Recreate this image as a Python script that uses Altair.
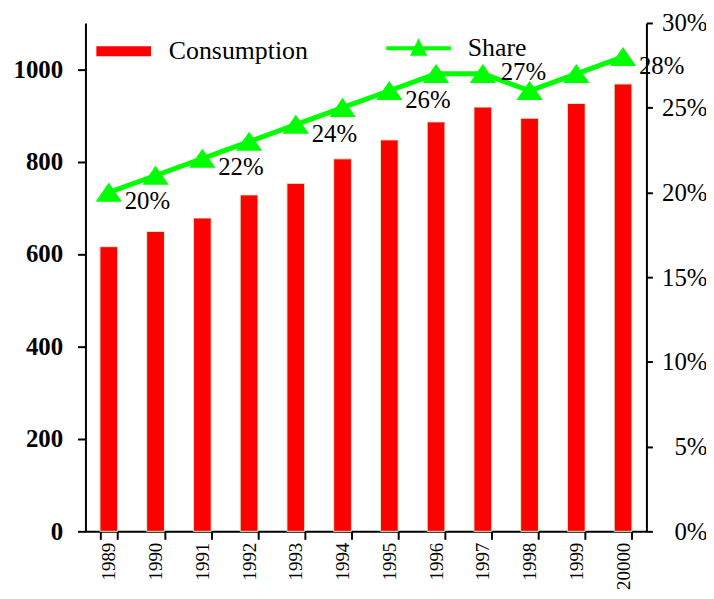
import altair as alt
import pandas as pd

years = ["1989", "1990", "1991", "1992", "1993", "1994", "1995", "1996", "1997", "1998", "1999", "20000"]
consumption = [616, 649, 678, 728, 753, 806, 847, 886, 918, 894, 926, 968]
share = [0.20, 0.21, 0.22, 0.23, 0.24, 0.25, 0.26, 0.27, 0.27, 0.26, 0.27, 0.28]
share_labels = ["20%", "", "22%", "", "24%", "", "26%", "", "27%", "", "", "28%"]
left_ticks = [0, 200, 400, 600, 800, 1000]
right_ticks = [0, 0.05, 0.10, 0.15, 0.20, 0.25, 0.30]

df = pd.DataFrame({
    "year": years,
    "consumption": consumption,
    "share": share,
    "label": share_labels,
    "s1": "Consumption",
    "s2": "Share",
})

FONT = "Liberation Serif"
RED = "#ff0000"
GREEN = "#00ff00"

x = alt.X(
    "year:O", sort=None, title=None,
    scale=alt.Scale(paddingInner=0.62, paddingOuter=0.31),
    axis=alt.Axis(labelAngle=-90, tickBand="extent", tickSize=8, labelPadding=3,
                  labelFont=FONT, labelFontSize=19, labelColor="black",
                  domainColor="black", domainWidth=2, tickColor="black", tickWidth=2),
)

y_left = alt.Y(
    "consumption:Q", title=None,
    scale=alt.Scale(domain=[0, 1100]),
    axis=alt.Axis(values=left_ticks, orient="left", format="d", grid=False, tickSize=8,
                  labelPadding=15,
                  labelFont=FONT, labelFontSize=25, labelFontWeight="bold", labelColor="black",
                  domainColor="black", domainWidth=2, tickColor="black", tickWidth=2),
)

right_axis = alt.Axis(values=right_ticks, orient="right", format=".0%", grid=False, tickSize=6,
                      labelPadding=55, labelAlign="right",
                      labelFont=FONT, labelFontSize=25, labelColor="black",
                      domainColor="black", domainWidth=2, tickColor="black", tickWidth=2)

def y_right():
    return alt.Y("share:Q", title=None, scale=alt.Scale(domain=[0, 0.30]), axis=right_axis)

bars = alt.Chart(df).mark_bar(stroke="#d4f2cc", strokeWidth=1).encode(
    x=x,
    y=y_left,
    fill=alt.Fill("s1:N", title=None, scale=alt.Scale(range=[RED]),
                  legend=alt.Legend(orient="none", legendX=11, legendY=1, padding=0,
                                    symbolType="M-1,-0.18H1V0.18H-1Z", symbolSize=3025,
                                    symbolStrokeWidth=0, symbolOpacity=1,
                                    labelFont=FONT, labelFontSize=26, labelColor="black",
                                    labelOffset=18)),
)

line = alt.Chart(df).mark_line(strokeWidth=5).encode(
    x=x,
    y=y_right(),
    stroke=alt.Stroke("s2:N", title=None, scale=alt.Scale(range=[GREEN]),
                      legend=alt.Legend(orient="none", legendX=301, legendY=-9, padding=0,
                                        symbolType="M-1,0H1M-0.17,0.17L0,-0.17L0.17,0.17Z",
                                        symbolSize=4225, symbolStrokeWidth=4,
                                        symbolFillColor=GREEN, symbolOpacity=1,
                                        labelFont=FONT, labelFontSize=26, labelColor="black",
                                        labelOffset=15)),
)

points = alt.Chart(df).mark_point(
    shape="M-1,0.7L0,-0.75L1,0.7Z", size=700, filled=True, color=GREEN, opacity=1
).encode(x=x, y=y_right())

labels_low = alt.Chart(df).transform_filter(
    "datum.label != '27%'"
).mark_text(
    font=FONT, fontSize=25, color="black", align="left", baseline="middle", dx=16, dy=9
).encode(x=x, y=y_right(), text="label:N")

labels_high = alt.Chart(df).transform_filter(
    "datum.label == '27%'"
).mark_text(
    font=FONT, fontSize=25, color="black", align="left", baseline="middle", dx=18, dy=-2
).encode(x=x, y=y_right(), text="label:N")

right = alt.layer(line, points, labels_low, labels_high)

chart = alt.layer(bars, right).resolve_scale(
    y="independent", fill="independent", stroke="independent"
).properties(
    width=565, height=512,
    padding={"left": 78, "top": 13, "right": 60, "bottom": 58},
    autosize=alt.AutoSizeParams(type="none"),
    background="white",
).configure_view(stroke=None)

chart.save("out.html", embed_options={"renderer": "svg", "actions": False})
